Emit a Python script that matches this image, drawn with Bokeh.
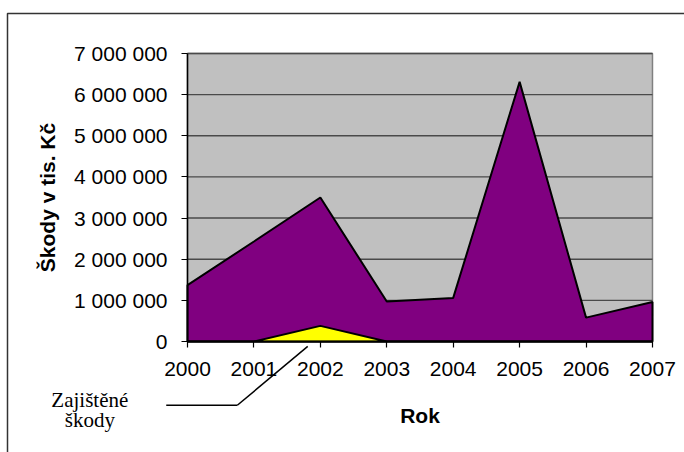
from bokeh.plotting import figure
from bokeh.models import FixedTicker, BoxAnnotation, Arrow, Label, Range1d
from bokeh.embed import file_html
from bokeh.resources import INLINE

years = [2000, 2001, 2002, 2003, 2004, 2005, 2006, 2007]
skody = [1370000, 2430000, 3500000, 970000, 1060000, 6310000, 580000, 960000]
zajistene = [0, 0, 380000, 0, 0, 0, 0, 0]
y_ticks = [0, 1000000, 2000000, 3000000, 4000000, 5000000, 6000000, 7000000]
y_labels = ["0", "1 000 000", "2 000 000", "3 000 000", "4 000 000",
            "5 000 000", "6 000 000", "7 000 000"]
annot_lines = ["Zajištěné", "škody"]

FONT = "Liberation Sans"
SERIF = "Liberation Serif"

# frame covers the whole canvas; plot area drawn in data space
p = figure(width=684, height=452, output_backend="svg", toolbar_location=None,
           x_range=Range1d(1997.185, 2007.482), y_range=Range1d(-2698000, 8288000),
           min_border=0)
p.background_fill_color = "white"
p.border_fill_color = "white"
p.outline_line_color = None
p.grid.grid_line_color = None

x0, x1 = years[0], years[-1]
y0, y1 = y_ticks[0], y_ticks[-1]

# plot area
p.quad(left=[x0], right=[x1], bottom=[y0], top=[y1], fill_color="#C0C0C0",
       line_color="#808080", line_width=1.5)
# gridlines
p.segment(x0=[x0] * (len(y_ticks) - 1), x1=[x1] * (len(y_ticks) - 1),
          y0=y_ticks[1:], y1=y_ticks[1:], line_color="#4a4a4a", line_width=1.4)

# areas (polygons closed to baseline)
xs = [x0] + years + [x1]
p.patch(xs, [0] + skody + [0], fill_color="#800080", line_color="black", line_width=2)
p.patch(xs, [0] + zajistene + [0], fill_color="#FFFF00", line_color="black", line_width=2)

# axes
for ax in (p.xaxis[0], p.yaxis[0]):
    ax.axis_line_color = "black"
    ax.axis_line_width = 1.5
    ax.major_tick_line_color = "black"
    ax.major_tick_line_width = 1.2
    ax.major_tick_in = 0
    ax.major_tick_out = 6
    ax.minor_tick_line_color = None
    ax.major_label_text_font = FONT
    ax.major_label_text_font_size = "21px"
    ax.major_label_text_color = "black"
    ax.axis_label_text_font = FONT
    ax.axis_label_text_font_size = "21px"
    ax.axis_label_text_font_style = "bold"
    ax.axis_label_text_color = "black"

p.xaxis.fixed_location = y0
p.xaxis.bounds = (x0, x1)
p.xaxis.ticker = FixedTicker(ticks=years)
p.xaxis.major_label_overrides = {y: str(y) for y in years}
p.xaxis.major_label_standoff = 15
p.xaxis.axis_label = "Rok"
p.xaxis.axis_label_standoff = 24

p.yaxis.fixed_location = x0
p.yaxis.bounds = (y0, y1)
p.yaxis.ticker = FixedTicker(ticks=y_ticks)
p.yaxis.major_label_overrides = {t: l for t, l in zip(y_ticks, y_labels)}
p.yaxis.major_label_standoff = 14
p.yaxis.axis_label = "Škody v tis. Kč"
p.yaxis.axis_label_standoff = 12

# outer chart frame
p.add_layout(BoxAnnotation(left=7, right=720, top=13, bottom=500,
                           left_units="canvas", right_units="canvas",
                           top_units="canvas", bottom_units="canvas",
                           fill_alpha=0, line_color="#333333", line_alpha=1.0,
                           line_width=1.5, level="overlay"))

# data label leader line for "Zajištěné škody"
p.add_layout(Arrow(end=None, x_start=1999.68, y_start=-1550000, x_end=2000.75, y_end=-1550000,
                   line_color="black", line_width=1.5))
p.add_layout(Arrow(end=None, x_start=2000.75, y_start=-1550000, x_end=2001.81, y_end=-120000,
                   line_color="black", line_width=1.5))
p.add_layout(Label(x=1998.53, y=-1430000, text=annot_lines[0], text_align="center",
                   text_baseline="middle", text_font=SERIF, text_font_size="21px",
                   text_color="black"))
p.add_layout(Label(x=1998.53, y=-1920000, text=annot_lines[1], text_align="center",
                   text_baseline="middle", text_font=SERIF, text_font_size="21px",
                   text_color="black"))

open("out.html", "w").write(file_html(p, INLINE))
